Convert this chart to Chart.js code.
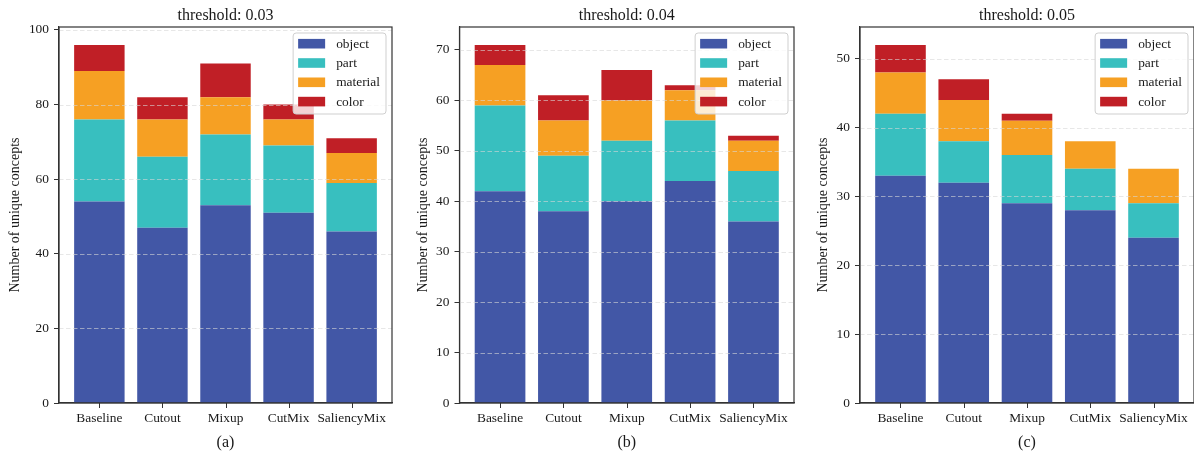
<!DOCTYPE html>
<html><head><meta charset="utf-8">
<script src="https://cdn.jsdelivr.net/npm/chart.js@4/dist/chart.umd.min.js"></script>
<style>
html,body{margin:0;padding:0;background:#fff;overflow:hidden;width:1194px;height:452px;}
canvas{position:absolute;top:0;}
</style></head><body>
<canvas id="c0" width="400" height="452" style="left:0px"></canvas>
<canvas id="c1" width="400" height="452" style="left:400px"></canvas>
<canvas id="c2" width="400" height="452" style="left:800px"></canvas>
<script>
// ---- data ----
const categories = ['Baseline', 'Cutout', 'Mixup', 'CutMix', 'SaliencyMix'];
const seriesNames = ['object', 'part', 'material', 'color'];
const seriesColors = ['#4257a6', '#38bfbf', '#f6a023', '#c01f26'];
const panelTitles = ['threshold: 0.03', 'threshold: 0.04', 'threshold: 0.05'];
const panelTags = ['(a)', '(b)', '(c)'];

// threshold 0.03 (segment heights)
const object003   = [54, 47, 53, 51, 46];
const part003     = [22, 19, 19, 18, 13];
const material003 = [13, 10, 10, 7, 8];
const color003    = [7, 6, 9, 4, 4];
// threshold 0.04
const object004   = [42, 38, 40, 44, 36];
const part004     = [17, 11, 12, 12, 10];
const material004 = [8, 7, 8, 6, 6];
const color004    = [4, 5, 6, 1, 1];
// threshold 0.05
const object005   = [33, 32, 29, 28, 24];
const part005     = [9, 6, 7, 6, 5];
const material005 = [6, 6, 5, 4, 5];
const color005    = [4, 3, 1, 0, 0];

const yTicks003 = [0, 20, 40, 60, 80, 100];
const yTicks004 = [0, 10, 20, 30, 40, 50, 60, 70];
const yTicks005 = [0, 10, 20, 30, 40, 50];
const yMax = [100.8, 74.55, 54.6];

const panelSeries = [
  [object003, part003, material003, color003],
  [object004, part004, material004, color004],
  [object005, part005, material005, color005]
];
const panelTicks = [yTicks003, yTicks004, yTicks005];

// ---- layout (pixels) ----
const chartLeft = [59, 59.5, 60];
const chartRight = [392, 394, 394];
const yTitlePad = [6.6, 14.9, 14.9];
const CANVAS_W = 400, CANVAS_H = 452, PLOT_BOTTOM = 403;

const FONT = "'Liberation Serif','Times New Roman',serif";
const TXT = '#1a1a1a';

const overlayPlugin = {
  id: 'overlay',
  afterDatasetsDraw(chart) {
    const {ctx, chartArea: a} = chart;
    const y = chart.scales.y;
    const x = chart.scales.x;
    ctx.save();
    // dashed grid on top of bars
    ctx.strokeStyle = 'rgba(215,215,215,0.6)';
    ctx.lineWidth = 1;
    ctx.setLineDash([4.5, 2.5]);
    y.ticks.forEach(t => {
      if (t.value === 0) return;
      const py = Math.round(y.getPixelForValue(t.value)) + 0.5;
      ctx.beginPath(); ctx.moveTo(a.left, py); ctx.lineTo(a.right, py); ctx.stroke();
    });
    ctx.setLineDash([]);
    // x tick marks (outward)
    ctx.strokeStyle = '#333';
    ctx.lineWidth = 1;
    x.ticks.forEach(t => {
      const px = Math.round(x.getPixelForValue(t.value)) + 0.5;
      ctx.beginPath(); ctx.moveTo(px, a.bottom); ctx.lineTo(px, a.bottom + 5); ctx.stroke();
    });
    // frame
    ctx.lineWidth = 1.2;
    ctx.strokeRect(a.left, a.top, a.right - a.left, a.bottom - a.top);
    // legend
    ctx.font = '13.4px ' + FONT;
    const ds = chart.data.datasets;
    const textW = Math.max(...ds.map(d => ctx.measureText(d.label).width));
    const padX = 5, patchW = 27, gap = 11, rowH = 19.3;
    const w = padX + patchW + gap + textW + 6;
    const h = 81;
    const bx = a.right - 6 - w, by = a.top + 6;
    ctx.beginPath();
    ctx.roundRect(bx, by, w, h, 3);
    ctx.fillStyle = 'rgba(255,255,255,0.8)';
    ctx.fill();
    ctx.strokeStyle = '#cfcfcf';
    ctx.lineWidth = 1;
    ctx.stroke();
    ctx.textBaseline = 'middle';
    ctx.textAlign = 'left';
    ds.forEach((d, i) => {
      const cy = by + 10.7 + i * rowH;
      ctx.fillStyle = d.backgroundColor;
      ctx.fillRect(bx + padX, cy - 4.8, patchW, 9.6);
      ctx.fillStyle = TXT;
      ctx.fillText(d.label, bx + padX + patchW + gap, cy + 0.5);
    });
    ctx.restore();
  }
};

function makeChart(p) {
  const series = panelSeries[p];
  const ticks = panelTicks[p];
  const datasets = seriesNames.map((name, s) => ({
    label: name,
    data: series[s].map((v, i) => ({x: i, y: v})),
    backgroundColor: seriesColors[s],
    borderWidth: 0,
    barPercentage: 0.8,
    categoryPercentage: 1.0
  }));
  new Chart(document.getElementById('c' + p), {
    type: 'bar',
    data: {datasets},
    plugins: [overlayPlugin],
    options: {
      responsive: false,
      animation: false,
      devicePixelRatio: 1,
      layout: {padding: {left: yTitlePad[p], right: CANVAS_W - chartRight[p], top: 0, bottom: 0}},
      plugins: {
        legend: {display: false},
        tooltip: {enabled: false},
        title: {
          display: true,
          text: panelTitles[p],
          fullSize: false,
          color: TXT,
          font: {family: FONT, size: 16, weight: 'normal'},
          padding: {top: 6.5, bottom: 1.3}
        }
      },
      scales: {
        x: {
          type: 'linear',
          stacked: true,
          min: -0.64,
          max: 4.64,
          offset: false,
          afterBuildTicks: s => { s.ticks = categories.map((c, i) => ({value: i})); },
          afterFit: s => { s.height = CANVAS_H - PLOT_BOTTOM; },
          ticks: {
            autoSkip: false, maxRotation: 0, minRotation: 0,
            callback: v => categories[v],
            color: TXT, padding: 7.5,
            font: {family: FONT, size: 13.4}
          },
          grid: {offset: false, drawOnChartArea: false, drawTicks: false},
          border: {display: true, color: '#333', width: 1.2},
          title: {
            display: true, text: panelTags[p], color: TXT,
            font: {family: FONT, size: 16}, padding: {top: 0, bottom: 0}
          }
        },
        y: {
          stacked: true,
          min: 0,
          max: yMax[p],
          afterBuildTicks: s => { s.ticks = ticks.map(v => ({value: v})); },
          afterFit: s => { s.width = chartLeft[p] - yTitlePad[p]; },
          ticks: {color: TXT, padding: 5, font: {family: FONT, size: 13.4}},
          grid: {offset: false, drawOnChartArea: false, drawTicks: true, tickLength: 5, tickColor: '#333', tickWidth: 1},
          border: {display: true, color: '#333', width: 1.2},
          title: {
            display: true, text: 'Number of unique concepts', color: TXT,
            font: {family: FONT, size: 14}, padding: {top: 0, bottom: 0}
          }
        }
      }
    }
  });
}
[0, 1, 2].forEach(makeChart);
</script>
</body></html>
